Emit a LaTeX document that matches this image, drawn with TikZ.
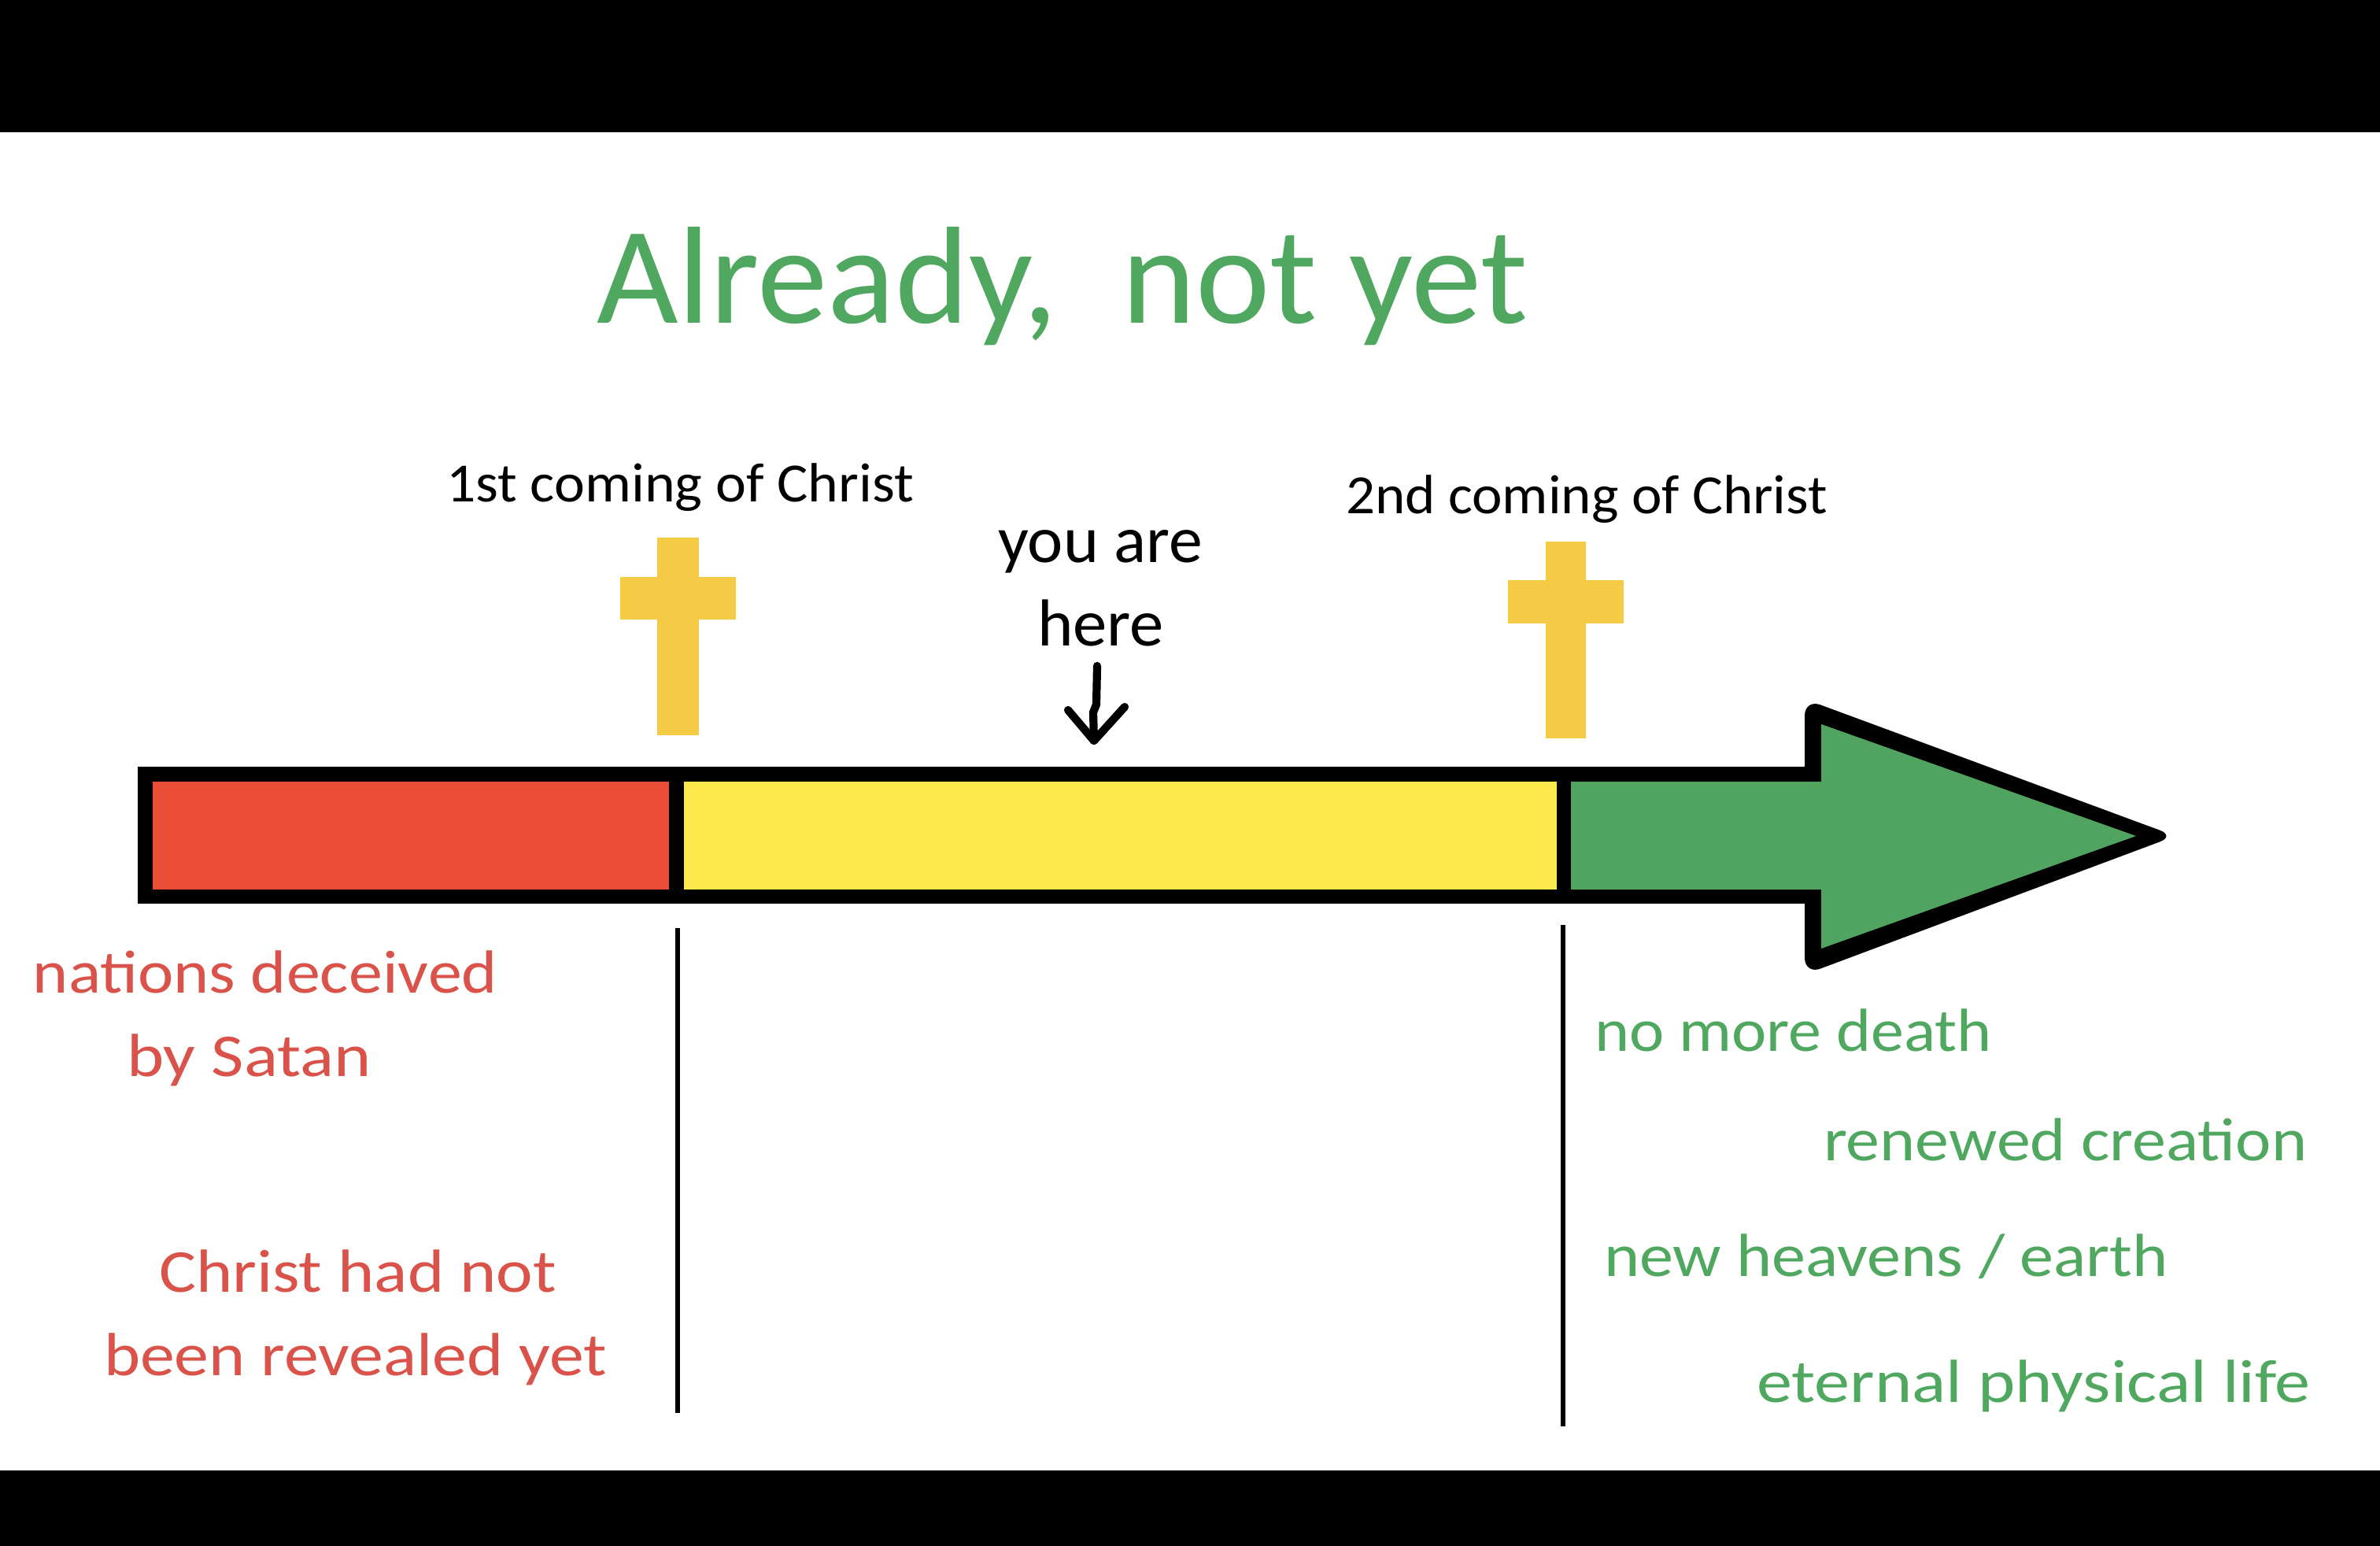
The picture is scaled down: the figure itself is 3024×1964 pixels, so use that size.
\documentclass[tikz,border=0pt]{standalone}
\usepackage{fontspec}
\usepackage{graphicx}
\setmainfont{Carlito}
\definecolor{redfill}{HTML}{EB4E37}
\definecolor{yellowfill}{HTML}{FBE94C}
\definecolor{greenfill}{HTML}{50A45F}
\definecolor{crossfill}{HTML}{F5CB45}
\definecolor{redtext}{HTML}{D9534A}
\definecolor{greentext}{HTML}{50A760}
\newcommand{\fitw}[2]{\resizebox{#1}{\height}{#2}}
\tikzset{
  lbl/.style={anchor=base west,inner sep=0pt,outer sep=0pt},
  titlelbl/.style={lbl,text=greentext,font=\fontsize{50}{50}\selectfont},
  blacklbl/.style={lbl,text=black,font=\fontsize{20}{20}\selectfont},
  herelbl/.style={lbl,text=black,font=\fontsize{24}{24}\selectfont},
  redlbl/.style={lbl,text=redtext,font=\fontsize{22}{22}\selectfont},
  greenlbl/.style={lbl,text=greentext,font=\fontsize{22}{22}\selectfont},
  crossbox/.style={fill=crossfill,draw=none},
  divider/.style={draw=black,line width=1.7pt},
  handarrow/.style={draw=black,line width=2.9pt,line cap=round,line join=round}
}
\begin{document}
\begin{tikzpicture}[x=0.01cm,y=-0.01cm]
\useasboundingbox (0,0) rectangle (3024,1964);
% page
\fill[white] (0,0) rectangle (3024,1964);
\fill[black] (0,0) rectangle (3024,168);
\fill[black] (0,1868) rectangle (3024,1964);
% timeline bar
\fill[black] (175,974) rectangle (2310,1148);
\fill[black,rounded corners=6] (2293,1062) -- (2293,888) -- (2764,1062) -- (2293,1238) -- cycle;
\fill[redfill] (194,993) rectangle (850,1130);
\fill[yellowfill] (869,993) rectangle (1978,1130);
\fill[greenfill] (1996,993) -- (2314,993) -- (2314,920) -- (2714,1062) -- (2314,1205) -- (2314,1130) -- (1996,1130) -- cycle;
% crosses
\fill[crossbox] (835,683) rectangle (888,934);
\fill[crossbox] (788,733) rectangle (935,787);
\fill[crossbox] (1964,688) rectangle (2015,938);
\fill[crossbox] (1916,737) rectangle (2063,792);
% dividers
\coordinate (d1a) at (860.5,1179);
\coordinate (d1b) at (860.5,1795);
\coordinate (d2a) at (1986,1175);
\coordinate (d2b) at (1986,1812);
\draw[divider] (d1a) -- (d1b);
\draw[divider] (d2a) -- (d2b);
% you-are-here arrow
\coordinate (ha) at (1394,846);
\coordinate (hb) at (1390,941);
\coordinate (hl) at (1357,902);
\coordinate (hr) at (1429,898);
\draw[handarrow] (ha) -- (1393,895) -- (1389,905) -- (hb);
\draw[handarrow] (hl) -- (hb) -- (hr);
% texts
\node[titlelbl] (title) at (758,410) {\fitw{1183\dimexpr0.01cm\relax}{Already,\ \ not yet}};
\node[blacklbl] (first) at (567,637) {\fitw{594\dimexpr0.01cm\relax}{1st coming of Christ}};
\node[blacklbl] (second) at (1710,652) {\fitw{612\dimexpr0.01cm\relax}{2nd coming of Christ}};
\node[herelbl] (you) at (1268,714) {\fitw{260\dimexpr0.01cm\relax}{you are}};
\node[herelbl] (here) at (1318,820) {\fitw{161\dimexpr0.01cm\relax}{here}};
\node[redlbl] (r1) at (42,1261) {\fitw{590\dimexpr0.01cm\relax}{nations deceived}};
\node[redlbl] (r2) at (161,1367) {\fitw{311\dimexpr0.01cm\relax}{by Satan}};
\node[redlbl] (r3) at (202,1641) {\fitw{505\dimexpr0.01cm\relax}{Christ had not}};
\node[redlbl] (r4) at (132,1747) {\fitw{639\dimexpr0.01cm\relax}{been revealed yet}};
\node[greenlbl] (g1) at (2026,1335) {\fitw{505\dimexpr0.01cm\relax}{no more death}};
\node[greenlbl] (g2) at (2317,1474) {\fitw{614\dimexpr0.01cm\relax}{renewed creation}};
\node[greenlbl] (g3) at (2038,1621) {\fitw{717\dimexpr0.01cm\relax}{new heavens / earth}};
\node[greenlbl] (g4) at (2232,1781) {\fitw{704\dimexpr0.01cm\relax}{eternal physical life}};
\end{tikzpicture}
\end{document}
